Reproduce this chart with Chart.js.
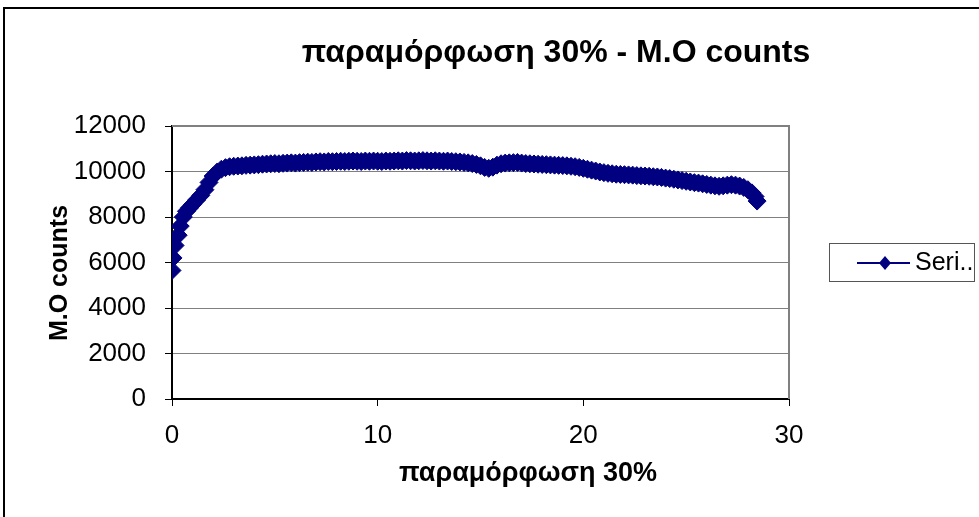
<!DOCTYPE html>
<html>
<head>
<meta charset="utf-8">
<script src="https://cdn.jsdelivr.net/npm/chart.js@4/dist/chart.umd.min.js"></script>
<style>
  html, body { margin: 0; padding: 0; background: #fff; }
  canvas { display: block; }
</style>
</head>
<body>
<canvas id="chart" width="979" height="517"></canvas>
<script>
// Data
const chartTitle = 'παραμόρφωση 30% - M.O counts';
const xTitle = 'παραμόρφωση 30%';
const yTitle = 'M.O counts';
const legendText = 'Seri..';

const strain = [
  0.00, 0.05, 0.15, 0.30, 0.40, 0.55, 0.70, 0.85, 1.00, 1.20,
  1.40, 1.60, 1.80, 2.00, 2.20, 2.40, 2.60, 2.80, 3.00, 3.20,
  3.40, 3.60, 3.80, 4.00, 4.20, 4.40, 4.60, 4.80, 5.00, 5.20,
  5.40, 5.60, 5.80, 6.00, 6.20, 6.40, 6.60, 6.80, 7.00, 7.20,
  7.40, 7.60, 7.80, 8.00, 8.20, 8.40, 8.60, 8.80, 9.00, 9.20,
  9.40, 9.60, 9.80, 10.00, 10.20, 10.40, 10.60, 10.80, 11.00, 11.20,
  11.40, 11.60, 11.80, 12.00, 12.20, 12.40, 12.60, 12.80, 13.00, 13.20,
  13.40, 13.60, 13.80, 14.00, 14.20, 14.40, 14.60, 14.80, 15.00, 15.20,
  15.40, 15.60, 15.80, 16.00, 16.20, 16.40, 16.60, 16.80, 17.00, 17.20,
  17.40, 17.60, 17.80, 18.00, 18.20, 18.40, 18.60, 18.80, 19.00, 19.20,
  19.40, 19.60, 19.80, 20.00, 20.20, 20.40, 20.60, 20.80, 21.00, 21.20,
  21.40, 21.60, 21.80, 22.00, 22.20, 22.40, 22.60, 22.80, 23.00, 23.20,
  23.40, 23.60, 23.80, 24.00, 24.20, 24.40, 24.60, 24.80, 25.00, 25.20,
  25.40, 25.60, 25.80, 26.00, 26.20, 26.40, 26.60, 26.80, 27.00, 27.20,
  27.40, 27.60, 27.80, 28.00, 28.20, 28.35, 28.45
];

const counts = [
  5650, 6200, 6750, 7200, 7600, 8000, 8250, 8400, 8550, 8750,
  8950, 9200, 9520, 9800, 9980, 10100, 10170, 10210, 10230, 10240,
  10250, 10270, 10280, 10290, 10300, 10320, 10330, 10340, 10350, 10340,
  10360, 10370, 10380, 10370, 10390, 10400, 10410, 10400, 10420, 10430,
  10420, 10440, 10430, 10440, 10450, 10440, 10450, 10460, 10450, 10440,
  10460, 10450, 10460, 10450, 10440, 10460, 10450, 10460, 10470, 10460,
  10480, 10470, 10460, 10470, 10480, 10470, 10460, 10470, 10460, 10450,
  10460, 10440, 10430, 10420, 10400, 10380, 10350, 10310, 10250, 10180,
  10140, 10190, 10280, 10340, 10370, 10380, 10390, 10400, 10370, 10350,
  10340, 10330, 10320, 10310, 10300, 10290, 10280, 10270, 10260, 10250,
  10230, 10210, 10180, 10140, 10100, 10060, 10020, 9980, 9950, 9920,
  9900, 9880, 9870, 9860, 9850, 9840, 9820, 9810, 9800, 9790,
  9770, 9760, 9740, 9710, 9690, 9660, 9630, 9600, 9570, 9540,
  9510, 9490, 9460, 9430, 9400, 9370, 9350, 9370, 9400, 9420,
  9400, 9360, 9300, 9200, 9060, 8900, 8700
];

const NAVY = '#000080';
const FONT = "'Liberation Sans', Arial, sans-serif";

// titles, legend, chart frame drawn the way Excel lays them out
const excelDecor = {
  id: 'excelDecor',
  beforeDatasetsDraw(chart) {
    const {ctx, chartArea: a} = chart;
    ctx.save();
    ctx.strokeStyle = '#808080';
    ctx.lineWidth = 2;
    ctx.beginPath();
    ctx.moveTo(a.left, a.top);
    ctx.lineTo(a.right, a.top);
    ctx.lineTo(a.right, a.bottom);
    ctx.stroke();
    ctx.restore();
  },
  afterDraw(chart) {
    const {ctx} = chart;
    ctx.save();

    // outer chart border (only top and left are inside the picture)
    ctx.strokeStyle = '#000';
    ctx.lineWidth = 2;
    ctx.beginPath();
    ctx.moveTo(4, 530);
    ctx.lineTo(4, 8);
    ctx.lineTo(990, 8);
    ctx.stroke();

    ctx.fillStyle = '#000';
    ctx.textBaseline = 'middle';
    ctx.textAlign = 'center';

    ctx.font = `bold 32px ${FONT}`;
    ctx.fillText(chartTitle, 556, 53);

    ctx.font = `bold 27px ${FONT}`;
    ctx.fillText(xTitle, 528, 474);

    ctx.save();
    ctx.font = `bold 25px ${FONT}`;
    ctx.translate(60, 273);
    ctx.rotate(-Math.PI / 2);
    ctx.fillText(yTitle, 0, 0);
    ctx.restore();

    // legend
    ctx.strokeStyle = '#555';
    ctx.lineWidth = 1;
    ctx.strokeRect(829.5, 243.5, 145, 38);
    ctx.strokeStyle = NAVY;
    ctx.lineWidth = 2;
    ctx.beginPath();
    ctx.moveTo(857, 263);
    ctx.lineTo(910, 263);
    ctx.stroke();
    ctx.fillStyle = NAVY;
    ctx.beginPath();
    ctx.moveTo(885, 256);
    ctx.lineTo(891, 263);
    ctx.lineTo(885, 270);
    ctx.lineTo(879, 263);
    ctx.closePath();
    ctx.fill();
    ctx.fillStyle = '#000';
    ctx.textAlign = 'left';
    ctx.font = `25px ${FONT}`;
    ctx.fillText(legendText, 915, 263);

    ctx.restore();
  }
};

new Chart(document.getElementById('chart'), {
  type: 'line',
  data: {
    datasets: [{
      label: 'Series1',
      data: strain.map((x, i) => ({x, y: counts[i]})),
      borderColor: NAVY,
      backgroundColor: NAVY,
      borderWidth: 4,
      pointStyle: 'rectRot',
      pointRadius: 9,
      pointBorderWidth: 1,
      pointBackgroundColor: NAVY,
      pointBorderColor: NAVY,
      tension: 0
    }]
  },
  options: {
    responsive: false,
    animation: false,
    devicePixelRatio: 1,
    layout: {padding: {top: 126, right: 190, left: 0, bottom: 0}},
    plugins: {
      legend: {display: false},
      title: {display: false},
      tooltip: {enabled: false}
    },
    scales: {
      x: {
        type: 'linear',
        min: 0,
        max: 30,
        afterFit: (scale) => { scale.height = 118; },
        ticks: {stepSize: 10, color: '#000', padding: 14, font: {family: FONT, size: 26}},
        grid: {drawOnChartArea: false, drawTicks: true, tickLength: 7, tickColor: '#000', tickWidth: 1},
        border: {color: '#000', width: 2}
      },
      y: {
        min: 0,
        max: 12000,
        afterFit: (scale) => { scale.width = 172; },
        ticks: {
          stepSize: 2000,
          color: '#000',
          padding: 19,
          font: {family: FONT, size: 26},
          callback: (v) => String(v)
        },
        grid: {color: '#808080', lineWidth: 1, drawTicks: true, tickLength: 7, tickColor: '#000', tickWidth: 1},
        border: {color: '#000', width: 2}
      }
    }
  },
  plugins: [excelDecor]
});
</script>
</body>
</html>
